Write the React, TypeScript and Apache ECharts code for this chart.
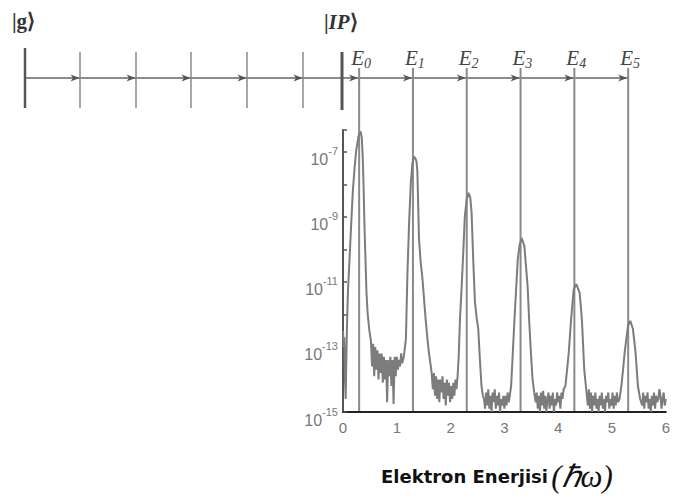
import React, { useEffect, useRef } from "react";
import * as echarts from "echarts";

// Photon-order levels E_n on the electron-energy axis (units of ħω)
const levelOrders = [0, 1, 2, 3, 4, 5];
const levelEnergies = [0.3, 1.3, 2.3, 3.3, 4.3, 5.3];

// Decades that carry a label on the yield axis
const yLabelExponents = [-7, -9, -11, -13, -15];

// Photoelectron spectrum: [electron energy (ħω), log10 of yield]
const spectrum: [number, number][] = [
  [0.0, -12.5], [0.012, -13.0], [0.025, -12.7], [0.037, -14.0], [0.05, -14.6],
  [0.062, -13.4], [0.075, -12.3], [0.092, -11.28], [0.123, -10.25], [0.152, -9.23],
  [0.183, -8.21], [0.215, -7.5], [0.244, -6.98], [0.288, -6.52], [0.325, -6.37],
  [0.349, -6.57], [0.367, -7.18], [0.385, -8.21], [0.398, -9.23], [0.417, -10.25],
  [0.435, -11.28], [0.459, -11.99], [0.49, -12.5], [0.519, -12.81],
  [0.54, -13.6], [0.56, -12.9], [0.58, -13.9], [0.6, -13.0], [0.62, -13.7],
  [0.64, -13.1], [0.66, -14.0], [0.68, -13.2], [0.7, -13.8], [0.72, -13.2],
  [0.74, -14.1], [0.76, -13.3], [0.78, -14.0], [0.8, -13.4], [0.82, -14.7],
  [0.84, -13.4], [0.86, -13.9], [0.88, -13.3], [0.9, -14.2], [0.92, -13.4],
  [0.94, -14.75], [0.96, -13.3], [0.98, -13.9], [1.0, -13.3], [1.02, -13.7],
  [1.04, -13.4], [1.06, -13.6], [1.08, -13.2], [1.1, -13.5], [1.13, -13.3],
  [1.169, -12.76], [1.198, -10.71], [1.229, -9.17], [1.261, -7.94], [1.29, -7.35],
  [1.32, -7.15], [1.345, -7.2], [1.367, -7.3], [1.382, -7.6], [1.413, -9.7],
  [1.444, -10.4], [1.473, -10.83], [1.505, -11.5], [1.536, -12.15], [1.566, -12.7],
  [1.596, -13.16], [1.646, -13.77],
  [1.67, -14.3], [1.69, -13.8], [1.71, -14.5], [1.73, -13.9], [1.75, -14.6],
  [1.77, -14.0], [1.79, -14.7], [1.81, -14.0], [1.83, -14.4], [1.85, -13.9],
  [1.87, -14.6], [1.89, -14.1], [1.91, -14.8], [1.93, -14.0], [1.95, -14.5],
  [1.97, -14.1], [1.99, -14.7], [2.01, -14.2], [2.03, -14.6], [2.05, -14.1],
  [2.07, -14.5], [2.09, -14.0], [2.11, -14.3], [2.13, -13.9],
  [2.15, -13.3], [2.174, -12.15], [2.207, -11.1], [2.235, -10.1], [2.264, -9.0],
  [2.296, -8.5], [2.33, -8.26], [2.365, -8.4], [2.39, -8.87], [2.422, -10.4],
  [2.453, -11.63], [2.484, -12.1], [2.514, -12.45], [2.545, -13.4], [2.574, -14.2],
  [2.6, -14.5], [2.62, -14.6], [2.64, -14.9], [2.66, -14.4], [2.68, -14.8],
  [2.7, -14.3], [2.72, -14.9], [2.74, -14.5], [2.76, -15.0], [2.78, -14.4],
  [2.8, -14.7], [2.82, -14.3], [2.84, -14.9], [2.86, -14.5], [2.88, -14.8],
  [2.9, -14.4], [2.92, -15.0], [2.94, -14.6], [2.96, -14.8], [2.98, -14.5],
  [3.0, -14.9], [3.02, -14.5], [3.04, -14.8], [3.06, -14.4], [3.08, -14.7],
  [3.1, -14.5], [3.125, -14.2],
  [3.187, -12.15], [3.248, -10.3], [3.285, -9.85], [3.321, -9.65], [3.371, -9.9],
  [3.431, -11.13], [3.462, -12.25], [3.49, -13.1], [3.523, -14.0], [3.554, -14.4],
  [3.584, -14.7],
  [3.6, -14.4], [3.62, -14.9], [3.64, -14.5], [3.66, -15.0], [3.68, -14.4],
  [3.7, -14.8], [3.72, -14.35], [3.74, -14.9], [3.76, -14.5], [3.78, -15.0],
  [3.8, -14.6], [3.82, -14.4], [3.84, -14.9], [3.86, -14.5], [3.88, -14.8],
  [3.9, -14.4], [3.92, -15.0], [3.94, -14.6], [3.96, -14.8], [3.98, -14.4],
  [4.0, -14.7], [4.02, -14.5], [4.04, -14.9], [4.06, -14.4], [4.08, -14.6],
  [4.1, -14.3], [4.134, -14.2],
  [4.165, -13.7], [4.196, -13.17], [4.239, -12.15], [4.288, -11.23], [4.336, -11.07],
  [4.398, -11.33], [4.44, -12.15], [4.483, -13.68], [4.532, -14.5],
  [4.55, -14.8], [4.57, -14.3], [4.59, -14.9], [4.61, -14.4], [4.63, -15.0],
  [4.65, -14.5], [4.67, -14.8], [4.69, -14.4], [4.71, -14.9], [4.73, -14.6],
  [4.75, -15.0], [4.77, -14.5], [4.79, -14.8], [4.81, -14.4], [4.83, -14.9],
  [4.85, -14.6], [4.87, -15.0], [4.89, -14.5], [4.91, -14.7], [4.93, -14.4],
  [4.95, -14.9], [4.97, -14.6], [4.99, -14.8], [5.01, -14.4], [5.03, -14.9],
  [5.05, -14.5], [5.07, -14.8], [5.09, -14.4], [5.11, -14.7], [5.14, -14.6],
  [5.174, -14.2], [5.205, -13.7], [5.235, -13.17], [5.297, -12.35], [5.339, -12.2],
  [5.389, -12.45], [5.437, -13.17], [5.481, -14.2], [5.523, -14.6],
  [5.56, -14.8], [5.58, -14.4], [5.6, -14.9], [5.62, -14.5], [5.64, -14.7],
  [5.66, -14.4], [5.68, -14.9], [5.7, -14.6], [5.72, -15.0], [5.74, -14.5],
  [5.76, -14.8], [5.78, -14.4], [5.8, -14.9], [5.82, -14.5], [5.84, -14.7],
  [5.86, -14.6], [5.88, -14.3], [5.9, -14.5], [5.92, -14.9], [5.94, -14.6],
  [5.96, -14.4], [5.98, -14.8], [6.0, -14.6],
];

const SANS = "Arial";
const WIDE_SANS = "DejaVu Sans";
const SERIF = "Liberation Serif";

// Absorption ladder (schematic, above the plot)
const LADDER_Y = 78;
const GROUND_X = 25;
const RUNG_XS = [80, 136, 191, 247, 303];
const LEVEL_TOP = 68;

function yLabel(value: number): string {
  const exp = Math.log10(value);
  const r = Math.round(exp);
  if (Math.abs(exp - r) > 1e-6 || !yLabelExponents.includes(r)) return "";
  return `{b|10}{s|${r}}`;
}

function arrowHead(tipX: number, y: number) {
  return {
    type: "polygon",
    shape: {
      points: [
        [tipX - 9, y - 3.5],
        [tipX, y],
        [tipX - 9, y + 3.5],
        [tipX - 6.5, y],
      ],
    },
    style: { fill: "#555" },
    z: 5,
  };
}

export default function App() {
  const ref = useRef<HTMLDivElement>(null);

  useEffect(() => {
    const el = ref.current;
    if (!el) return;
    const chart = echarts.init(el, null, { renderer: "svg" });

    chart.setOption({
      animation: false,
      backgroundColor: "#fff",
      textStyle: { fontFamily: SANS },
      grid: { left: 343, right: 3, top: 130, bottom: 84 },
      xAxis: {
        type: "value",
        min: 0,
        max: 6,
        interval: 1,
        axisLine: { lineStyle: { color: "#222", width: 2 } },
        axisTick: { show: false },
        splitLine: { show: false },
        axisLabel: { color: "#777", fontSize: 15, fontFamily: SANS, margin: 8 },
        name: "{t|Elektron Enerjisi} {m|(ℏω)}",
        nameLocation: "middle",
        nameGap: 49,
        nameTextStyle: {
          padding: [0, 15, 0, 0],
          rich: {
            t: { fontSize: 18, fontWeight: "bold", color: "#111", fontFamily: WIDE_SANS },
            m: { fontSize: 31, fontStyle: "italic", color: "#111", fontFamily: SERIF },
          },
        },
      },
      yAxis: {
        type: "log",
        logBase: 10,
        min: 1e-15,
        max: Math.pow(10, -6.33),
        interval: 1,
        axisLine: { lineStyle: { color: "#555", width: 2 } },
        axisTick: { inside: true, length: 4, lineStyle: { color: "#555", width: 1.5 } },
        splitLine: { show: false },
        axisLabel: {
          formatter: yLabel,
          margin: 5,
          fontFamily: SANS,
          color: "#777",
          padding: [10, 0, 0, 0],
          rich: {
            b: { fontSize: 16, color: "#777", fontFamily: SANS, verticalAlign: "bottom", lineHeight: 22 },
            s: { fontSize: 11, color: "#777", fontFamily: SANS, verticalAlign: "top" },
          },
        },
      },
      series: [
        {
          type: "line",
          data: spectrum.map(([e, lg]) => [e, Math.pow(10, lg)]),
          showSymbol: false,
          lineStyle: { color: "#7c7c7c", width: 2 },
          z: 3,
        },
      ],
    });

    const px = (e: number) => chart.convertToPixel({ xAxisIndex: 0 }, e) as number;
    const py = (v: number) => chart.convertToPixel({ yAxisIndex: 0 }, v) as number;
    const levelXs = levelEnergies.map(px);
    const baseY = py(1e-15);
    const ipX = px(0) - 1;

    const elements: any[] = [];
    // main ladder line
    elements.push({
      type: "line",
      shape: { x1: GROUND_X, y1: LADDER_Y, x2: levelXs[levelXs.length - 1], y2: LADDER_Y },
      style: { stroke: "#666", lineWidth: 1.5 },
    });
    // ground state bar
    elements.push({
      type: "line",
      shape: { x1: GROUND_X, y1: 48, x2: GROUND_X, y2: 108 },
      style: { stroke: "#555", lineWidth: 2.5 },
    });
    // intermediate rungs
    RUNG_XS.forEach((x) => {
      elements.push({
        type: "line",
        shape: { x1: x, y1: 52, x2: x, y2: 108 },
        style: { stroke: "#8a8a8a", lineWidth: 1.5 },
      });
      elements.push(arrowHead(x - 0.5, LADDER_Y));
    });
    // ionisation potential bar
    elements.push({
      type: "line",
      shape: { x1: ipX, y1: 52, x2: ipX, y2: 110 },
      style: { stroke: "#555", lineWidth: 3 },
    });
    // E_n levels down to the energy axis
    levelXs.forEach((x, i) => {
      elements.push({
        type: "line",
        shape: { x1: x, y1: LEVEL_TOP, x2: x, y2: baseY },
        style: { stroke: "#8a8a8a", lineWidth: 2 },
      });
      elements.push(arrowHead(x - 1, LADDER_Y));
      elements.push({
        type: "text",
        x: x - 8,
        y: 58,
        style: {
          text: `{e|E}{n|${levelOrders[i]}}`,
          verticalAlign: "middle",
          rich: {
            e: { fontSize: 21, fontStyle: "italic", fontFamily: SERIF, fill: "#444", lineHeight: 24 },
            n: { fontSize: 14, fontStyle: "italic", fontFamily: SERIF, fill: "#444", verticalAlign: "bottom" },
          },
        },
      });
    });
    // state labels
    elements.push({
      type: "text",
      x: 12,
      y: 21,
      style: {
        text: "|g⟩",
        font: `bold 21px ${SERIF}`,
        fill: "#333",
        verticalAlign: "middle",
      },
    });
    elements.push({
      type: "text",
      x: 324,
      y: 22,
      style: {
        text: "{a||}{b|IP}{a|⟩}",
        verticalAlign: "middle",
        rich: {
          a: { fontSize: 21, fontWeight: "bold", fontFamily: SERIF, fill: "#333" },
          b: { fontSize: 21, fontWeight: "bold", fontStyle: "italic", fontFamily: SERIF, fill: "#333" },
        },
      },
    });

    chart.setOption({ graphic: { elements } });

    return () => chart.dispose();
  }, []);

  return (
    <div
      ref={ref}
      style={{
        position: "fixed",
        left: 0,
        top: 0,
        width: 673,
        height: 497,
        background: "#fff",
        fontFamily: "Arial, sans-serif",
      }}
    />
  );
}
